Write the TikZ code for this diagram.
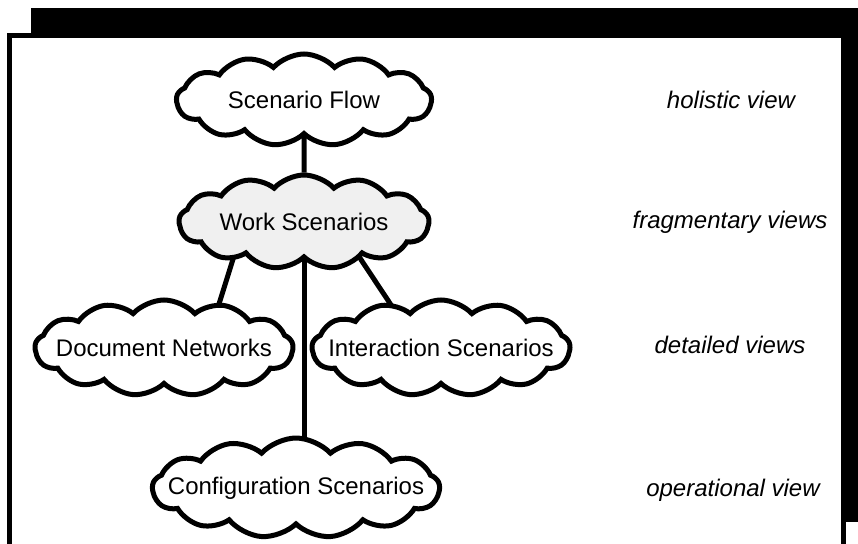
\documentclass[tikz,border=0pt]{standalone}
\usepackage{fontspec}
\setmainfont{Liberation Sans}
\usetikzlibrary{shapes.symbols,backgrounds,calc}

\begin{document}
\begin{tikzpicture}[x=1pt,y=-1pt,
                    every node/.style={font=\fontsize{24}{28}\selectfont},
                    puff/.style={cloud,draw,line width=5pt,fill=white,
                                 cloud puffs=13,cloud puff arc=95,
                                 cloud ignores aspect,inner sep=0pt},
                    view/.style={font=\fontsize{24}{28}\selectfont\itshape},
                    link/.style={line width=5pt}]

\useasboundingbox (0,0) rectangle (858,543);

% shadowed frame
\begin{scope}[on background layer]
\fill (31,8) rectangle (870,522);
\draw[line width=5pt,fill=white] (9.5,35.5) rectangle (843.5,570);
\end{scope}

\node[puff,minimum width=255pt,minimum height=92pt,
      label=center:Scenario Flow] (flow) at (304,100) {};
\node[puff,minimum width=250pt,minimum height=94pt,fill=gray!12,
      label=center:Work Scenarios] (work) at (304,222) {};
\node[puff,minimum width=258pt,minimum height=96pt,
      label=center:Document Networks] (docs) at (164,348) {};
\node[puff,minimum width=258pt,minimum height=96pt,
      label=center:Interaction Scenarios] (inter) at (441,348) {};
\node[puff,minimum width=287pt,minimum height=100pt,
      label=center:Configuration Scenarios] (config) at (296,488) {};

\node[view] (holistic) at (731,100) {holistic view};
\node[view] (fragment) at (730,222) {fragmentary views};
\node[view] (detailed) at (730,345) {detailed views};
\node[view] (operation) at (733,490) {operational view};

% connectors behind the clouds
\begin{scope}[on background layer]
\draw[link] (flow) -- (work);
\draw[link] (work.center) -- (work.center |- config.center);
\draw[link] ($(work)+(-65,18)$) -- ($(docs)+(50,-28)$);
\draw[link] ($(work)+(44,18)$) -- ($(inter)+(-40,-28)$);
\end{scope}

\end{tikzpicture}
\end{document}
